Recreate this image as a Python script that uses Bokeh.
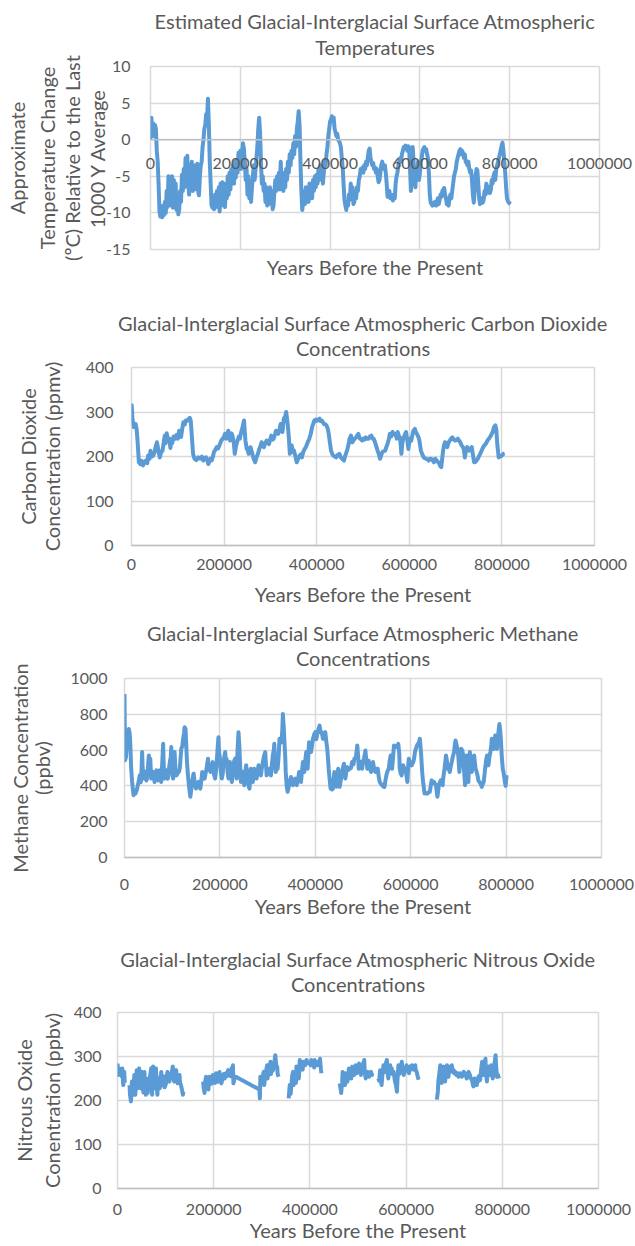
from bokeh.plotting import figure
from bokeh.models import (FixedTicker, NumeralTickFormatter, Range1d, LinearAxis, Span)
from bokeh.embed import file_html
from bokeh.resources import INLINE

# ---------------- data ----------------
x_ticks = [0, 200000, 400000, 600000, 800000, 1000000]

# Temperature anomaly (deg C), sampled every 2 kyr from 0 to 802 kyr
temp_step_kyr = 2
temp_vals = [
    0.0, 3.0, 1.0, 2.2, 0.5, 2.0, 1.5, -1.5, -3.0, -6.0,
    -9.8, -10.5, -10.2, -10.6, -9.0, -10.3, -8.5, -10.0, -7.0, -9.2,
    -5.0, -8.8, -5.5, -9.0, -5.0, -9.3, -5.5, -8.5, -6.0, -9.6,
    -8.0, -10.2, -9.5, -7.0, -8.5, -4.8, -7.0, -4.0, -6.5, -2.5,
    -5.0, -2.2, -6.0, -7.5, -3.5, -6.5, -3.0, -7.0, -4.0, -6.8,
    -3.5, -6.0, -3.3, -7.0, -7.6, -5.0, -3.5, -3.0, -1.0, 0.0,
    1.5, 2.0, 3.5, 3.0, 5.6, 2.0, -3.0, -6.0, -9.0, -9.3,
    -8.0, -9.5, -7.5, -9.0, -7.0, -9.2, -6.5, -9.8, -6.0, -9.0,
    -5.8, -8.5, -6.5, -9.2, -6.0, -8.0, -5.0, -7.5, -4.5, -6.8,
    -4.0, -5.5, -3.5, -6.0, -3.0, -5.2, -2.8, -4.5, -1.8, -3.5,
    -1.5, -4.0, -2.0, -0.5, -1.2, -3.0, -5.5, -4.0, -7.5, -5.0,
    -8.0, -6.0, -8.5, -6.5, -5.0, -3.5, -5.5, -4.0, -2.5, -1.0,
    1.5, 3.0, 1.0, -3.0, -6.0, -5.0, -7.0, -6.0, -8.5, -6.5,
    -9.0, -7.0, -8.8, -6.5, -8.0, -7.0, -9.5, -9.0, -7.0, -5.5,
    -7.0, -5.0, -6.5, -4.5, -6.8, -3.0, -6.0, -4.5, -7.0, -5.5,
    -6.5, -4.0, -5.5, -3.0, -4.5, -2.0, -3.5, -1.5, -2.5, -0.5,
    -2.0, 0.5, -1.0, 1.5, 2.5, 3.9, 2.0, -3.0, -7.0, -9.6,
    -8.5, -7.0, -8.8, -6.5, -8.0, -7.0, -8.5, -6.0, -7.8, -6.5,
    -8.0, -5.5, -7.0, -5.0, -6.5, -4.8, -6.0, -4.0, -5.5, -3.5,
    -5.0, -4.0, -6.0, -4.5, -3.0, -3.5, -2.0, -1.0, 0.5, 1.5,
    2.5, 2.8, 3.2, 2.5, 3.0, 1.5, 1.0, 0.5, 0.8, 0.0,
    -0.2, -0.5, -1.0, -2.5, -3.8, -6.0, -8.2, -9.0, -9.6, -8.5,
    -9.0, -7.5, -8.2, -6.0, -7.5, -6.5, -8.8, -8.5, -7.0, -8.0,
    -6.5, -7.0, -5.5, -5.0, -4.0, -4.5, -3.8, -4.5, -3.5, -4.0,
    -3.0, -3.5, -2.5, -1.5, -1.2, -2.5, -3.0, -3.5, -3.2, -4.0,
    -3.8, -4.5, -4.0, -5.0, -5.8, -5.5, -4.5, -3.5, -3.0, -3.8,
    -4.0, -3.5, -4.5, -6.0, -7.8, -7.5, -7.0, -8.0, -7.5, -8.0,
    -8.3, -7.5, -8.0, -6.0, -5.0, -4.5, -3.5, -3.0, -2.5, -3.0,
    -2.0, -1.5, -1.0, -1.2, -0.8, -1.0, -1.5, -0.9, -1.0, -4.0,
    -7.0, -5.0, -1.0, -3.0, -5.5, -6.5, -4.0, -5.0, -3.0, -5.5,
    -4.5, -3.0, -2.5, -1.5, -1.2, -1.0, -1.5, -1.3, -2.0, -2.5,
    -4.5, -7.5, -8.6, -8.8, -9.0, -8.7, -8.9, -8.5, -9.0, -8.6,
    -8.0, -8.8, -8.2, -7.5, -7.8, -7.0, -6.8, -6.6, -7.5, -8.0,
    -8.8, -8.6, -9.0, -8.0, -7.5, -8.0, -7.0, -6.0, -5.0, -4.5,
    -4.0, -3.0, -2.5, -2.0, -1.5, -1.3, -2.0, -1.5, -1.8, -2.5,
    -2.0, -3.0, -3.2, -3.5, -3.0, -4.0, -4.5, -4.2, -5.5, -7.5,
    -8.6, -7.0, -5.0, -4.0, -4.2, -6.0, -8.0, -8.8, -8.5, -8.0,
    -8.6, -8.2, -7.0, -7.5, -6.0, -6.5, -7.2, -6.5, -7.3, -6.8,
    -5.5, -6.0, -5.0, -4.5, -5.5, -4.0, -3.5, -3.0, -2.5, -2.0,
    -1.4, -0.8, -0.4, -1.5, -3.0, -4.5, -6.5, -8.0, -8.4, -8.6,
    -8.7, -8.8,
]
temp_years = [i * temp_step_kyr * 1000 for i in range(len(temp_vals))]

# Carbon dioxide (kyr BP, ppmv)
co2_points = [
    (0, 280), (0.5, 315), (2, 285), (5, 266), (9, 273), (11, 262), (13, 236), (16, 187), (19, 183),
    (22, 190), (25, 180), (28, 186), (31, 191), (34, 185), (36, 202), (39, 195), (41, 213), (44, 200),
    (47, 202), (50, 210), (52, 221), (55, 232), (58, 215), (61, 198), (64, 210), (67, 213), (70, 235),
    (72, 247), (74, 230), (76, 252), (79, 236), (82, 240), (84, 219), (86, 235), (88, 230), (91, 245),
    (94, 240), (97, 248), (100, 240), (103, 258), (105, 250), (107, 244), (110, 265), (112, 277),
    (115, 272), (117, 281), (120, 280), (123, 284), (126, 287), (128, 280), (130, 251), (133, 206),
    (136, 195), (140, 192), (144, 198), (148, 195), (152, 200), (155, 191), (158, 197), (161, 198),
    (164, 190), (166, 183), (170, 195), (173, 191), (176, 200), (178, 210), (181, 215), (184, 221),
    (187, 218), (191, 228), (194, 236), (197, 240), (200, 245), (202, 251), (205, 240), (209, 258),
    (211, 245), (213, 236), (216, 252), (218, 247), (221, 230), (223, 206), (226, 225), (229, 236),
    (232, 245), (234, 240), (237, 255), (240, 266), (243, 281), (246, 236), (249, 217), (251, 215),
    (253, 206), (255, 210), (257, 221), (260, 210), (263, 198), (265, 192), (267, 187), (270, 198),
    (273, 206), (276, 217), (279, 225), (281, 232), (284, 225), (286, 221), (289, 230), (292, 236),
    (295, 230), (297, 228), (300, 240), (302, 247), (305, 238), (307, 240), (310, 250), (312, 258),
    (315, 255), (317, 251), (320, 262), (322, 273), (324, 260), (326, 255), (329, 285), (332, 290),
    (334, 300), (336, 285), (338, 266), (340, 240), (342, 206), (344, 215), (346, 225), (349, 210),
    (351, 213), (354, 200), (357, 187), (360, 195), (363, 202), (366, 205), (368, 198), (371, 210),
    (374, 217), (377, 222), (379, 228), (382, 235), (384, 240), (387, 250), (390, 266), (393, 275),
    (395, 281), (398, 283), (400, 280), (403, 283), (406, 285), (408, 280), (411, 281), (414, 276),
    (416, 273), (419, 272), (421, 270), (424, 262), (426, 251), (428, 235), (431, 213), (434, 205),
    (436, 202), (439, 200), (442, 198), (445, 203), (449, 206), (452, 198), (455, 195), (459, 191),
    (461, 200), (463, 206), (466, 215), (469, 228), (471, 240), (474, 247), (477, 232), (479, 236),
    (482, 240), (485, 243), (488, 248), (490, 251), (493, 240), (495, 240), (498, 236), (501, 240),
    (503, 238), (506, 243), (509, 240), (512, 240), (515, 245), (518, 247), (521, 240), (523, 240),
    (526, 232), (528, 225), (531, 215), (534, 206), (537, 195), (540, 205), (542, 210), (545, 212),
    (548, 213), (550, 220), (553, 228), (556, 240), (558, 251), (561, 245), (564, 255), (567, 250),
    (570, 251), (573, 240), (575, 255), (578, 245), (580, 243), (583, 206), (585, 230), (587, 240),
    (590, 248), (593, 255), (596, 235), (598, 217), (601, 240), (604, 235), (606, 245), (609, 258),
    (612, 262), (614, 255), (617, 250), (620, 243), (622, 235), (625, 213), (628, 205), (631, 198),
    (634, 196), (636, 195), (639, 194), (642, 191), (645, 195), (647, 195), (650, 192), (653, 187),
    (656, 195), (659, 191), (662, 188), (665, 183), (667, 178), (669, 176), (671, 195), (673, 213),
    (675, 225), (677, 232), (680, 228), (682, 221), (685, 232), (687, 235), (690, 240), (693, 243),
    (696, 238), (699, 236), (702, 237), (705, 240), (708, 235), (710, 232), (713, 225), (716, 221),
    (718, 215), (720, 198), (722, 210), (725, 221), (728, 215), (730, 213), (733, 218), (735, 221),
    (738, 200), (740, 187), (743, 188), (745, 191), (748, 195), (751, 202), (753, 206), (756, 213),
    (759, 220), (762, 225), (765, 228), (767, 232), (770, 238), (772, 240), (775, 245), (778, 251),
    (780, 255), (783, 266), (786, 270), (788, 260), (790, 228), (793, 198), (796, 200), (800, 202),
    (803, 206), (806, 207),
]

# Methane (kyr BP, ppbv)
ch4_points = [
    (0, 913), (1, 543), (3, 560), (5, 640), (7, 663), (9, 718), (11, 690), (12, 644), (14, 496),
    (16, 422), (19, 348), (21, 360), (23, 357), (26, 380), (28, 404), (30, 430), (32, 459), (34, 420),
    (35, 440), (37, 589), (38, 500), (40, 441), (42, 470), (44, 478), (46, 430), (47, 440), (49, 500),
    (51, 570), (53, 480), (54, 552), (56, 441), (58, 480), (60, 478), (62, 440), (63, 422), (65, 470),
    (67, 487), (69, 440), (70, 431), (72, 480), (74, 487), (76, 450), (77, 422), (79, 520), (81, 635),
    (83, 441), (85, 470), (88, 487), (90, 440), (91, 441), (93, 490), (95, 533), (97, 560), (98, 617),
    (100, 470), (102, 441), (104, 520), (105, 589), (107, 480), (109, 459), (111, 470), (114, 478),
    (116, 500), (119, 607), (121, 620), (123, 663), (125, 700), (126, 728), (128, 718), (131, 533),
    (133, 460), (135, 404), (137, 360), (138, 339), (140, 380), (142, 422), (144, 460), (145, 468),
    (147, 420), (150, 385), (152, 410), (155, 422), (157, 400), (159, 385), (161, 430), (163, 478),
    (166, 440), (168, 441), (170, 470), (172, 496), (175, 552), (177, 500), (180, 478), (183, 510),
    (185, 533), (187, 470), (190, 441), (192, 490), (193, 515), (195, 600), (197, 672), (198, 600),
    (200, 552), (202, 480), (204, 441), (206, 470), (207, 515), (209, 560), (211, 589), (213, 520),
    (214, 552), (216, 480), (218, 441), (220, 500), (221, 533), (223, 470), (225, 422), (227, 480),
    (228, 515), (230, 540), (232, 552), (234, 470), (235, 441), (237, 600), (239, 700), (241, 607),
    (244, 422), (246, 470), (248, 478), (250, 440), (251, 404), (253, 470), (255, 515), (257, 480),
    (258, 441), (260, 400), (262, 385), (264, 460), (265, 496), (267, 450), (269, 422), (271, 470),
    (272, 496), (275, 460), (277, 441), (279, 480), (281, 515), (283, 480), (286, 459), (288, 500),
    (290, 533), (292, 560), (295, 589), (297, 500), (298, 459), (301, 480), (303, 496), (305, 470),
    (307, 459), (309, 520), (311, 570), (313, 600), (314, 635), (316, 520), (317, 478), (319, 500),
    (321, 496), (323, 560), (325, 663), (327, 640), (329, 644), (331, 720), (332, 802), (334, 720),
    (335, 663), (337, 560), (338, 478), (340, 400), (342, 367), (344, 390), (346, 422), (348, 440),
    (349, 450), (351, 430), (353, 404), (355, 430), (358, 441), (360, 420), (361, 404), (364, 440),
    (366, 478), (368, 450), (370, 422), (372, 480), (374, 533), (376, 500), (377, 478), (379, 540),
    (381, 589), (383, 520), (384, 496), (386, 600), (387, 644), (389, 620), (391, 589), (393, 620),
    (395, 663), (398, 690), (400, 700), (402, 660), (405, 700), (407, 720), (409, 737), (411, 700),
    (413, 700), (415, 680), (416, 663), (419, 690), (421, 700), (423, 650), (425, 607), (427, 540),
    (428, 496), (430, 440), (432, 385), (435, 380), (437, 385), (438, 420), (440, 478), (442, 440),
    (444, 395), (446, 440), (448, 496), (450, 450), (451, 395), (454, 440), (456, 478), (458, 500),
    (460, 524), (462, 470), (463, 441), (465, 480), (467, 505), (470, 490), (472, 496), (475, 500),
    (477, 533), (480, 520), (482, 552), (485, 560), (488, 626), (490, 560), (491, 496), (493, 520),
    (495, 533), (497, 500), (498, 496), (500, 540), (502, 552), (504, 580), (505, 598), (507, 540),
    (509, 496), (511, 520), (512, 540), (514, 500), (517, 478), (519, 500), (521, 533), (523, 500),
    (526, 478), (528, 496), (531, 496), (533, 450), (535, 422), (538, 410), (540, 404), (543, 395),
    (545, 394), (547, 430), (549, 459), (551, 480), (554, 496), (556, 540), (558, 570), (560, 520),
    (561, 496), (563, 560), (565, 626), (567, 620), (570, 617), (572, 620), (574, 635), (576, 580),
    (577, 496), (579, 470), (581, 459), (583, 500), (584, 515), (587, 496), (589, 496), (591, 460),
    (593, 422), (595, 520), (596, 552), (598, 520), (600, 524), (602, 515), (604, 533), (605, 530),
    (607, 552), (609, 590), (612, 617), (614, 630), (615, 635), (617, 640), (619, 663), (620, 640),
    (622, 570), (624, 480), (626, 422), (628, 380), (629, 357), (632, 360), (635, 357), (638, 365),
    (640, 367), (642, 400), (644, 431), (646, 420), (649, 422), (651, 410), (653, 404), (655, 360),
    (656, 339), (658, 380), (659, 404), (661, 420), (663, 431), (665, 410), (667, 404), (668, 440),
    (670, 478), (672, 520), (674, 570), (676, 540), (678, 496), (680, 490), (682, 478), (684, 510),
    (686, 533), (688, 560), (691, 589), (692, 620), (694, 654), (696, 630), (698, 607), (700, 560),
    (702, 478), (704, 540), (706, 607), (708, 600), (710, 570), (712, 480), (714, 404), (716, 480),
    (717, 570), (719, 500), (721, 422), (722, 500), (724, 589), (726, 540), (728, 478), (730, 520),
    (733, 570), (735, 520), (736, 496), (738, 480), (740, 459), (742, 430), (744, 422), (747, 410),
    (749, 394), (751, 410), (753, 422), (755, 470), (756, 496), (758, 540), (760, 570), (762, 530),
    (763, 515), (765, 560), (767, 589), (769, 630), (770, 663), (772, 620), (774, 607), (776, 640),
    (777, 681), (779, 640), (781, 607), (783, 680), (786, 746), (788, 700), (789, 663), (791, 560),
    (793, 496), (795, 470), (797, 430), (799, 400), (801, 460),
]

# Nitrous oxide (kyr BP, ppbv); None marks a gap in the record
n2o_points = [
    (0, 284), (1, 270), (2, 258), (4, 273), (5, 265), (6, 262), (8, 268), (9, 255), (10, 273),
    (11, 250), (12, 235), (13, 255), (14, 265), (15, 240),
    None,
    (25, 235), (26, 213), (28, 198), (30, 243), (31, 225), (33, 213), (34, 240), (35, 258), (36, 230),
    (37, 213), (39, 250), (40, 269), (41, 235), (42, 228), (43, 255), (45, 273), (46, 240), (48, 228),
    (49, 255), (51, 265), (52, 230), (54, 218), (55, 250), (56, 265), (57, 240), (59, 213), (61, 240),
    (63, 217), (64, 250), (66, 243), (68, 258), (70, 273), (71, 240), (72, 213), (73, 250), (74, 277),
    (75, 245), (77, 228), (78, 260), (80, 273), (81, 240), (83, 213), (84, 245), (86, 250), (87, 235),
    (88, 228), (90, 255), (91, 265), (92, 240), (94, 235), (95, 255), (97, 250), (98, 230), (101, 239),
    (102, 255), (104, 265), (105, 245), (108, 243), (109, 260), (111, 250), (113, 265), (115, 277),
    (116, 250), (118, 243), (120, 260), (122, 269), (123, 250), (125, 239), (127, 250), (129, 258),
    (130, 240), (132, 235), (134, 225), (136, 213), (137, 220),
    None,
    (178, 243), (179, 230), (181, 217), (182, 240), (184, 254), (186, 235), (188, 246), (189, 225),
    (191, 254), (193, 240), (195, 250), (196, 238), (198, 258), (200, 245), (202, 250), (203, 240),
    (205, 262), (207, 248), (209, 243), (210, 252), (212, 265), (214, 250), (216, 239), (218, 248),
    (219, 254), (221, 260), (223, 250), (225, 262), (227, 255), (230, 269), (232, 258), (233, 262),
    (235, 255), (237, 273), (239, 265), (240, 280), (241, 239), (243, 248), (246, 254), (295, 225),
    (296, 205), (297, 254), (299, 240), (300, 243), (302, 255), (304, 265), (305, 235), (307, 254),
    (309, 268), (311, 280), (312, 250), (314, 265), (316, 275), (318, 288), (319, 260), (321, 273),
    (323, 268), (325, 277), (326, 285), (328, 303), (330, 280), (332, 277), (333, 260), (335, 254),
    None,
    (356, 205), (357, 220), (358, 235), (360, 215), (362, 240), (363, 255), (365, 265), (366, 235),
    (368, 250), (369, 262), (371, 240), (372, 277), (374, 265), (376, 265), (377, 250), (379, 292),
    (381, 270), (383, 277), (385, 270), (386, 288), (388, 280), (390, 280), (392, 290), (393, 292),
    (395, 285), (397, 284), (399, 286), (400, 284), (402, 280), (403, 292), (405, 285), (407, 280),
    (409, 275), (410, 292), (412, 284), (414, 288), (415, 280), (417, 280), (419, 285), (421, 295),
    (423, 270), (424, 262),
    None,
    (462, 239), (464, 225), (465, 217), (467, 240), (468, 265), (470, 245), (471, 250), (473, 235),
    (474, 262), (476, 250), (478, 243), (480, 255), (481, 273), (483, 260), (485, 262), (486, 250),
    (488, 277), (490, 265), (492, 258), (494, 270), (495, 280), (497, 262), (499, 265), (500, 275),
    (502, 284), (504, 270), (506, 258), (507, 272), (509, 277), (511, 285), (513, 292), (514, 265),
    (516, 250), (518, 262), (520, 265), (521, 255), (523, 254), (525, 262), (527, 265), (529, 258),
    (530, 262),
    None,
    (542, 250), (544, 245), (546, 269), (547, 255), (549, 235), (551, 260), (553, 280), (554, 270),
    (556, 265), (558, 285), (560, 292), (561, 270), (563, 250), (565, 265), (567, 280), (568, 270),
    (570, 273), (572, 260), (574, 265), (576, 250), (577, 243), (579, 235), (581, 220), (582, 245),
    (584, 280), (586, 260), (587, 265), (589, 275), (591, 288), (593, 270), (595, 258), (597, 265),
    (598, 273), (600, 275), (601, 280), (603, 270), (605, 269), (606, 262), (608, 277), (610, 270),
    (612, 280), (613, 275), (615, 273), (617, 270), (619, 280), (620, 270), (622, 265), (624, 255),
    (626, 247),
    None,
    (664, 202), (666, 220), (667, 243), (669, 260), (671, 280), (672, 255), (674, 240), (676, 265),
    (678, 277), (679, 255), (681, 243), (683, 265), (685, 280), (686, 265), (688, 254), (690, 270),
    (692, 277), (693, 270), (695, 280), (697, 265), (699, 269), (700, 262), (702, 265), (704, 258),
    (706, 258), (707, 262), (709, 254), (711, 258), (713, 262), (715, 255), (716, 254), (718, 258),
    (720, 265), (722, 262), (724, 258), (726, 250), (728, 255), (730, 265), (732, 260), (734, 252),
    (736, 247), (737, 247), (739, 235), (740, 232), (742, 250), (744, 240), (745, 245), (747, 235),
    (749, 250), (751, 255), (752, 245), (754, 247), (756, 270), (758, 288), (759, 262), (761, 258),
    (763, 280), (765, 295), (766, 265), (768, 243), (770, 270), (772, 277), (773, 258), (775, 258),
    (777, 280), (779, 270), (780, 250), (782, 262), (784, 285), (786, 303), (787, 280), (789, 254),
    (791, 258), (793, 250),
]

titles = [
    ["Estimated Glacial-Interglacial Surface Atmospheric", "Temperatures"],
    ["Glacial-Interglacial Surface Atmospheric Carbon Dioxide", "Concentrations"],
    ["Glacial-Interglacial Surface Atmospheric Methane", "Concentrations"],
    ["Glacial-Interglacial Surface Atmospheric Nitrous Oxide", "Concentrations"],
]
y_labels = [
    ["Approximate", "Temperature Change", "(ºC) Relative to the Last", "1000 Y Average"],
    ["Carbon Dioxide", "Concentration (ppmv)"],
    ["Methane Concentration", "(ppbv)"],
    ["Nitrous Oxide", "Conentration (ppbv)"],
]
x_label = "Years Before the Present"
temp_ticks = [-15, -10, -5, 0, 5, 10]
co2_ticks = [0, 100, 200, 300, 400]
ch4_ticks = [0, 200, 400, 600, 800, 1000]
n2o_ticks = [0, 100, 200, 300, 400]

# ---------------- styling ----------------
FONT = "Lato"
TXT = "#595959"
GRID = "#D9D9D9"
AXIS = "#BFBFBF"
LINE = "#5B9BD5"
BIG = "20px"
SMALL = "16px"
W = 635


def split(points):
    xs, ys = [], []
    for pt in points:
        if pt is None:
            xs.append(float("nan"))
            ys.append(float("nan"))
        else:
            xs.append(pt[0] * 1000)
            ys.append(pt[1])
    return xs, ys


def label_axis(text, standoff):
    """An axis that shows only its title: used to stack centred text lines."""
    return LinearAxis(ticker=FixedTicker(ticks=[]), axis_label=text,
                      axis_line_color=None, major_tick_line_color=None,
                      minor_tick_line_color=None, major_tick_in=0, major_tick_out=0,
                      minor_tick_in=0, minor_tick_out=0, major_label_standoff=0,
                      axis_label_standoff=standoff, axis_label_text_font=FONT,
                      axis_label_text_font_size=BIG, axis_label_text_font_style="normal",
                      axis_label_text_color=TXT, axis_label_text_line_height=1.0)


def make(title_lines, ylab_lines, yticks, xs, ys, height, left, right, top, bottom,
         title_standoffs, ytick_standoff, ylab_standoffs, xt_standoff, xl_standoff):
    p = figure(width=W, height=height, title=None,
               x_range=Range1d(0, 1000000), y_range=Range1d(yticks[0], yticks[-1]),
               output_backend="svg", toolbar_location=None,
               min_border_left=left, min_border_right=right,
               min_border_top=top, min_border_bottom=bottom,
               background_fill_color="white", border_fill_color="white")
    xax = p.below[0]
    yax = p.left[0]

    p.line(xs, ys, line_width=4, line_color=LINE, line_join="round")

    p.outline_line_color = GRID
    p.outline_line_width = 1.5

    for ax in (xax, yax):
        ax.major_tick_line_color = None
        ax.minor_tick_line_color = None
        ax.major_tick_in = 0
        ax.major_tick_out = 0
        ax.minor_tick_in = 0
        ax.minor_tick_out = 0
        ax.major_label_text_font = FONT
        ax.major_label_text_font_size = SMALL
        ax.major_label_text_color = TXT
        ax.axis_label_text_font = FONT
        ax.axis_label_text_font_size = BIG
        ax.axis_label_text_font_style = "normal"
        ax.axis_label_text_color = TXT
        ax.axis_label_text_line_height = 1.0
        ax.formatter = NumeralTickFormatter(format="0")

    xax.ticker = FixedTicker(ticks=x_ticks)
    yax.ticker = FixedTicker(ticks=yticks)
    p.xgrid.ticker = FixedTicker(ticks=x_ticks)
    p.ygrid.ticker = FixedTicker(ticks=yticks)
    for g in (p.xgrid, p.ygrid):
        g.grid_line_color = GRID
        g.grid_line_width = 1.5

    xax.axis_line_color = AXIS
    xax.axis_line_width = 1.5
    yax.axis_line_color = None
    yax.major_label_standoff = ytick_standoff

    # y title lines: innermost line on the main axis, the others on label-only axes
    yax.axis_label = ylab_lines[-1]
    yax.axis_label_standoff = ylab_standoffs[-1]
    for text, so in zip(reversed(ylab_lines[:-1]), reversed(ylab_standoffs[:-1])):
        p.add_layout(label_axis(text, so), "left")

    xax.major_label_standoff = xt_standoff
    xax.axis_label = x_label
    xax.axis_label_standoff = xl_standoff

    # title lines (centred over the plot): the one added first sits closest to the frame
    for text, so in reversed(list(zip(title_lines, title_standoffs))):
        p.add_layout(label_axis(text, so), "above")
    return p


co2_x, co2_y = split(co2_points)
ch4_x, ch4_y = split(ch4_points)
n2o_x, n2o_y = split(n2o_points)

# chart 1: the horizontal axis crosses at 0, so its labels are pulled up to sit under that line
p1 = make(titles[0], y_labels[0], temp_ticks, temp_years, temp_vals, 300,
          150, 36, 66, 51, (-1, 8), 20, (3, -2, -2, -6), -92, 83)
p1.below[0].axis_line_color = None
p1.add_layout(Span(location=0, dimension="width", line_color=AXIS, line_width=1.5))

p2 = make(titles[1], y_labels[1], co2_ticks, co2_x, co2_y, 315,
          131, 41, 67, 70, (-2, 8), 18, (-3, 19), 13, 9)
p3 = make(titles[2], y_labels[2], ch4_ticks, ch4_x, ch4_y, 315,
          124, 34, 63, 73, (-2, 9), 17, (-4, 13), 21, 1)
p4 = make(titles[3], y_labels[3], n2o_ticks, n2o_x, n2o_y, 316,
          117, 37, 82, 58, (-2, 17), 16, (1, 7), 15, 0)

open("out.html", "w").write(file_html([p1, p2, p3, p4], INLINE))
